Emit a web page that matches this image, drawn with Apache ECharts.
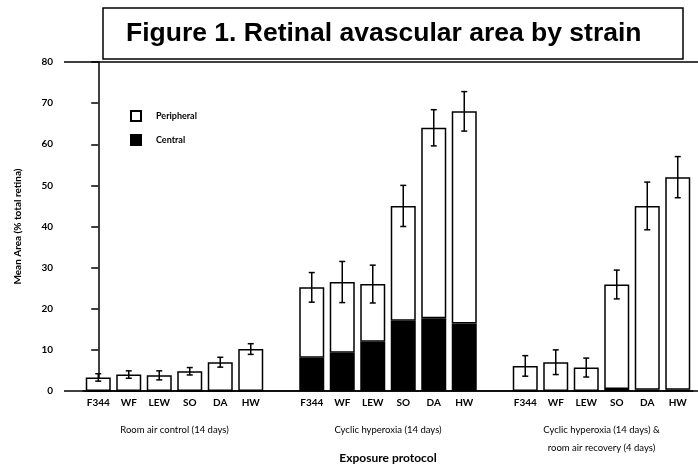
<!DOCTYPE html>
<html>
<head>
<meta charset="utf-8">
<script src="https://cdn.jsdelivr.net/npm/echarts@6/dist/echarts.min.js"></script>
<style>
  html, body { margin: 0; padding: 0; background: #fff; }
  #chart { width: 698px; height: 469px; }
</style>
</head>
<body>
<div id="chart"></div>
<script>
// 3 exposure groups of 6 strains, blank category between groups
const categories = [
  'F344', 'WF', 'LEW', 'SO', 'DA', 'HW', '',
  'F344', 'WF', 'LEW', 'SO', 'DA', 'HW', '',
  'F344', 'WF', 'LEW', 'SO', 'DA', 'HW'
];
const totalArea = [
  3.3, 4.0, 3.8, 4.8, 7.0, 10.2, null,
  25.2, 26.5, 26.0, 45.0, 64.0, 68.0, null,
  6.1, 7.0, 5.7, 25.9, 45.0, 52.0
];
const centralArea = [
  0, 0, 0, 0, 0, 0, null,
  8.1, 9.3, 12.0, 17.1, 17.7, 16.4, null,
  0, 0, 0, 0.5, 0.3, 0.3
];
const errorArea = [
  0.9, 0.9, 1.1, 0.9, 1.2, 1.3, null,
  3.6, 5.0, 4.6, 5.0, 4.4, 4.8, null,
  2.5, 3.0, 2.3, 3.5, 5.8, 5.0
];
const groupLabels = [
  'Room air control (14 days)',
  'Cyclic hyperoxia (14 days)',
  'Cyclic hyperoxia (14 days) &\nroom air recovery (4 days)'
];
const yTicks = [0, 10, 20, 30, 40, 50, 60, 70, 80];

const peripheralArea = totalArea.map((t, i) => t == null ? null : +(t - centralArea[i]).toFixed(2));

const chart = echarts.init(document.getElementById('chart'));
const FONT = 'Lato';

const option = {
  animation: false,
  title: {
    text: 'Figure 1. Retinal avascular area by strain',
    left: 103,
    top: 8,
    padding: [12, 42, 12, 23],
    borderColor: '#000',
    borderWidth: 1.5,
    textStyle: {
      fontFamily: 'Liberation Sans',
      fontWeight: 'bold',
      fontSize: 26.5,
      lineHeight: 27,
      color: '#000'
    }
  },
  legend: {
    data: ['Peripheral', 'Central'],
    orient: 'vertical',
    left: 125,
    top: 105,
    itemWidth: 10,
    itemHeight: 10,
    itemGap: 12,
    icon: 'rect',
    textStyle: { fontFamily: FONT, fontWeight: 'bold', fontSize: 9, color: '#000', padding: [0, 0, 0, 10] }
  },
  grid: { left: 83, right: 5, top: 62, bottom: 78 },
  graphic: [
    { type: 'line', shape: { x1: 64, y1: 62, x2: 698, y2: 62 }, style: { stroke: '#000', lineWidth: 1.5 } },
    { type: 'line', shape: { x1: 64, y1: 391, x2: 698, y2: 391 }, style: { stroke: '#000', lineWidth: 1.5 } }
  ],
  xAxis: [{
    type: 'category',
    data: categories,
    name: 'Exposure protocol',
    nameLocation: 'middle',
    nameGap: 61,
    nameTextStyle: { fontFamily: FONT, fontWeight: 'bold', fontSize: 12, color: '#000' },
    axisLine: { lineStyle: { color: '#000', width: 1.5 } },
    axisTick: {
      alignWithLabel: true,
      length: 5,
      interval: (idx, val) => val === '',
      lineStyle: { color: '#000', width: 1.5 }
    },
    axisLabel: { interval: 0, margin: 7, fontFamily: FONT, fontWeight: 'bold', fontSize: 10, color: '#000' }
  }, {
    type: 'value',
    position: 'bottom',
    min: -0.5,
    max: categories.length - 0.5,
    interval: 0.5,
    axisLine: { show: false },
    axisTick: { show: false },
    splitLine: { show: false },
    axisLabel: {
      margin: 30,
      fontFamily: FONT,
      fontSize: 9.5,
      lineHeight: 18,
      color: '#000',
      showMinLabel: true,
      showMaxLabel: true,
      formatter: v => {
        const gi = groupLabels.findIndex((g, i) => Math.abs(v - (i * 7 + 2.5)) < 1e-6);
        return gi >= 0 ? groupLabels[gi] : '';
      }
    }
  }],
  yAxis: {
    type: 'value',
    min: 0,
    max: 80,
    interval: 10,
    offset: 12,
    name: 'Mean Area (% total retina)',
    nameLocation: 'middle',
    nameGap: 48,
    nameTextStyle: { fontFamily: FONT, fontWeight: 'bold', fontSize: 10, color: '#000' },
    axisLine: { show: true, lineStyle: { color: '#000', width: 1.5 } },
    axisTick: { show: true, length: 7, lineStyle: { color: '#000', width: 1.5 } },
    splitLine: { show: false },
    axisLabel: {
      margin: 18,
      fontFamily: FONT,
      fontWeight: 'bold',
      fontSize: 10,
      color: '#000',
      formatter: v => yTicks.includes(v) ? String(v) : ''
    }
  },
  series: [{
    name: 'Central',
    type: 'bar',
    stack: 'area',
    barWidth: 25,
    data: centralArea,
    itemStyle: { color: '#000', borderColor: '#000', borderWidth: 1.5 }
  }, {
    name: 'Peripheral',
    type: 'bar',
    stack: 'area',
    barWidth: 25,
    data: peripheralArea,
    itemStyle: { color: '#fff', borderColor: '#000', borderWidth: 1.5 }
  }, {
    name: 'error',
    type: 'custom',
    z: 5,
    data: totalArea.map((t, i) => t == null ? [i, null, null] : [i, t, errorArea[i]]),
    renderItem: (params, api) => {
      const t = api.value(1);
      if (t == null || isNaN(t)) return null;
      const e = api.value(2);
      const hi = api.coord([api.value(0), t + e]);
      const lo = api.coord([api.value(0), t - e]);
      const w = 3;
      const st = { stroke: '#000', lineWidth: 1.5 };
      return {
        type: 'group',
        children: [
          { type: 'line', shape: { x1: hi[0], y1: hi[1], x2: lo[0], y2: lo[1] }, style: st },
          { type: 'line', shape: { x1: hi[0] - w, y1: hi[1], x2: hi[0] + w, y2: hi[1] }, style: st },
          { type: 'line', shape: { x1: lo[0] - w, y1: lo[1], x2: lo[0] + w, y2: lo[1] }, style: st }
        ]
      };
    }
  }]
};

chart.setOption(option);
</script>
</body>
</html>
